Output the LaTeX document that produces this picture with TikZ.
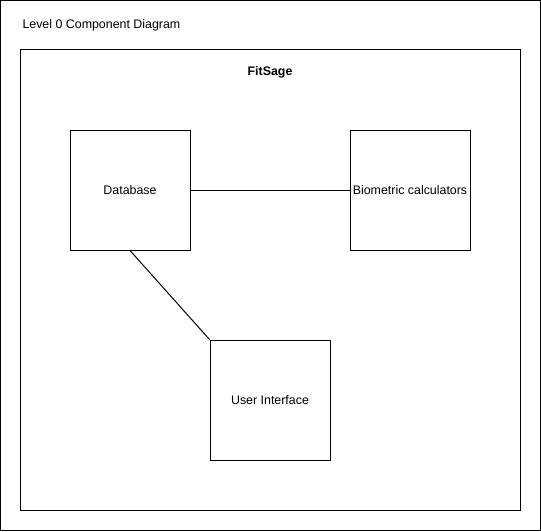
\documentclass[tikz,border=0pt]{standalone}
\usepackage{fontspec}
\setmainfont{Liberation Sans}
\tikzset{every picture/.style={line width=0.75pt}}
\tikzset{compbox/.style={draw, minimum width=90pt, minimum height=90pt, inner sep=0.75pt, font=\fontsize{9.3}{11}\selectfont}}

\begin{document}
\begin{tikzpicture}[x=0.75pt,y=0.75pt,yscale=-1,xscale=1]
\useasboundingbox (0,0) rectangle (541,531);

%Shape: Rectangle [id:frame]
\draw (0.5,0.5) rectangle (540.5,530.5) ;
%Shape: Rectangle [id:system]
\draw (20,50) rectangle (520,510) ;

% Component boxes
\node [compbox] (database) at (130,190) {Database};
\node [compbox] (biometric) at (410,190) {Biometric calculators};
\node [compbox] (userif) at (270,400) {User Interface};

% Connectors
\draw (database.east) -- (biometric.west) ;
\draw (database.south) -- (userif.north west) ;

% Text Node
\node [anchor=west, inner sep=0.75pt, font=\fontsize{9.3}{11}\selectfont] (title) at (21,25) {Level 0 Component Diagram};
% Text Node
\node [inner sep=0.75pt, font=\fontsize{9.3}{11}\selectfont\bfseries] (sysname) at (270,72) {FitSage};

\end{tikzpicture}
\end{document}
